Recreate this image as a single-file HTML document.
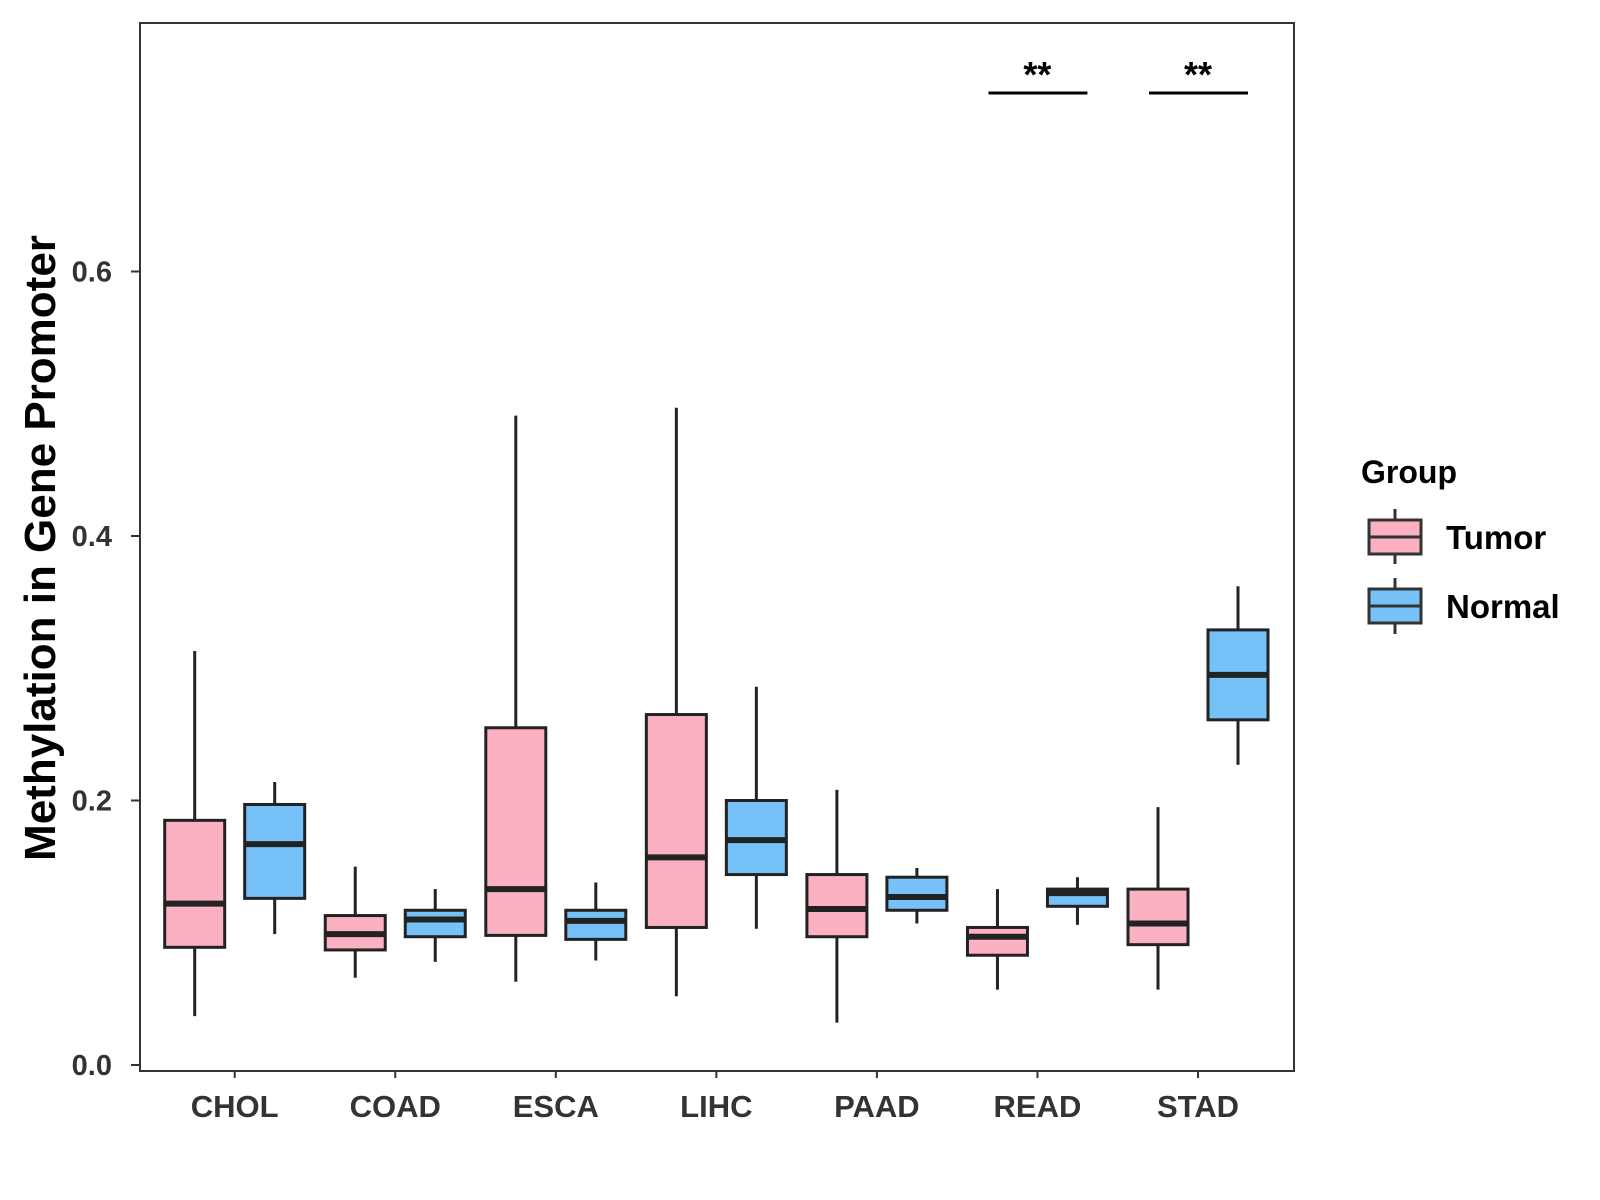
<!DOCTYPE html>
<html><head><meta charset="utf-8"><style>
html,body{margin:0;padding:0;background:#fff;}
svg{display:block;font-family:"Liberation Sans",Arial,sans-serif;font-weight:bold;}
</style></head><body>
<svg id="chart" width="1600" height="1200" viewBox="0 0 1600 1200">
<rect x="140" y="23" width="1154" height="1048" fill="#fff" stroke="#333" stroke-width="2"/>
<g id="boxes"></g>
<g id="axes"></g>
<text x="55" y="548" font-size="44" text-anchor="middle" transform="rotate(-90 55 548)" fill="#000">Methylation in Gene Promoter</text>
<g>
<text x="1361" y="483" font-size="32" fill="#000">Group</text>
<g>
<line x1="1395" y1="509" x2="1395" y2="564" stroke="#333" stroke-width="3"/>
<rect x="1369" y="520" width="52" height="34" fill="#FBB1C1" stroke="#333" stroke-width="3"/>
<line x1="1369" y1="537" x2="1421" y2="537" stroke="#333" stroke-width="3"/>
<text x="1446" y="549" font-size="33" fill="#000">Tumor</text>
</g>
<g>
<line x1="1395" y1="578" x2="1395" y2="634" stroke="#333" stroke-width="3"/>
<rect x="1369" y="589" width="52" height="34" fill="#76C1F8" stroke="#333" stroke-width="3"/>
<line x1="1369" y1="606" x2="1421" y2="606" stroke="#333" stroke-width="3"/>
<text x="1446" y="618" font-size="33" fill="#000">Normal</text>
</g>
</g>
</svg>
<script>
const categories = ["CHOL","COAD","ESCA","LIHC","PAAD","READ","STAD"];
const tumorMin = [0.037,0.066,0.063,0.052,0.032,0.057,0.057];
const tumorQ1 = [0.089,0.087,0.098,0.104,0.097,0.083,0.091];
const tumorMed = [0.122,0.099,0.133,0.157,0.118,0.097,0.107];
const tumorQ3 = [0.185,0.113,0.255,0.265,0.144,0.104,0.133];
const tumorMax = [0.313,0.150,0.491,0.497,0.208,0.133,0.195];
const normalMin = [0.099,0.078,0.079,0.103,0.107,0.106,0.227];
const normalQ1 = [0.126,0.097,0.095,0.144,0.117,0.120,0.261];
const normalMed = [0.167,0.110,0.109,0.170,0.127,0.130,0.295];
const normalQ3 = [0.197,0.117,0.117,0.200,0.142,0.133,0.329];
const normalMax = [0.214,0.133,0.138,0.286,0.149,0.142,0.362];
const yTicks = [0.0,0.2,0.4,0.6];
const yTickLabels = ["0.0","0.2","0.4","0.6"];
const sigCategories = ["READ","STAD"];
const sigLabels = ["**","**"];
const sigLevel = 0.735;

const NS="http://www.w3.org/2000/svg";
function y(v){return 1065 - v*1322.5;}
function x(i){return 234.7 + i*160.55;}
function mk(tag,attrs,parent){const e=document.createElementNS(NS,tag);for(const k in attrs)e.setAttribute(k,attrs[k]);parent.appendChild(e);return e;}
const boxes=document.getElementById('boxes');
const axes=document.getElementById('axes');
function drawBox(cx,mn,q1,md,q3,mx,fill,name){
  const g=mk('g',{},boxes);
  
  
  mk('line',{x1:cx,x2:cx,y1:y(mx),y2:y(q3),stroke:'#222','stroke-width':3},g);
  mk('line',{x1:cx,x2:cx,y1:y(q1),y2:y(mn),stroke:'#222','stroke-width':3},g);
  mk('rect',{x:cx-30,y:y(q3),width:60,height:y(q1)-y(q3),fill:fill,stroke:'#222','stroke-width':3},g);
  mk('line',{x1:cx-30,x2:cx+30,y1:y(md),y2:y(md),stroke:'#222','stroke-width':6},g);
}
categories.forEach((c,i)=>{
  drawBox(x(i)-40,tumorMin[i],tumorQ1[i],tumorMed[i],tumorQ3[i],tumorMax[i],'#FBB1C1','box-tumor-'+c.toLowerCase());
  drawBox(x(i)+40,normalMin[i],normalQ1[i],normalMed[i],normalQ3[i],normalMax[i],'#76C1F8','box-normal-'+c.toLowerCase());
  const t=mk('line',{x1:x(i),x2:x(i),y1:1071,y2:1078,stroke:'#333','stroke-width':2},axes);
  
  
  const l=mk('text',{x:x(i),y:1117,'font-size':31,'text-anchor':'middle',fill:'#333'},axes);
  l.textContent=c;
  
  
});
yTicks.forEach((v,i)=>{
  const t=mk('line',{x1:131,x2:140,y1:y(v),y2:y(v),stroke:'#333','stroke-width':2},axes);
  
  
  const l=mk('text',{x:112,y:y(v)+10,'font-size':29,'text-anchor':'end',fill:'#333'},axes);
  l.textContent=yTickLabels[i];
  
  
});
sigCategories.forEach((c,k)=>{
  const i=categories.indexOf(c);
  const ln=mk('line',{x1:x(i)-49,x2:x(i)+50,y1:y(sigLevel),y2:y(sigLevel),stroke:'#000','stroke-width':3},boxes);
  
  
  const t=mk('text',{x:x(i),y:y(sigLevel)-6,'font-size':36,'text-anchor':'middle',fill:'#000'},boxes);
  t.textContent=sigLabels[k];
  
  
});
</script>
</body></html>
